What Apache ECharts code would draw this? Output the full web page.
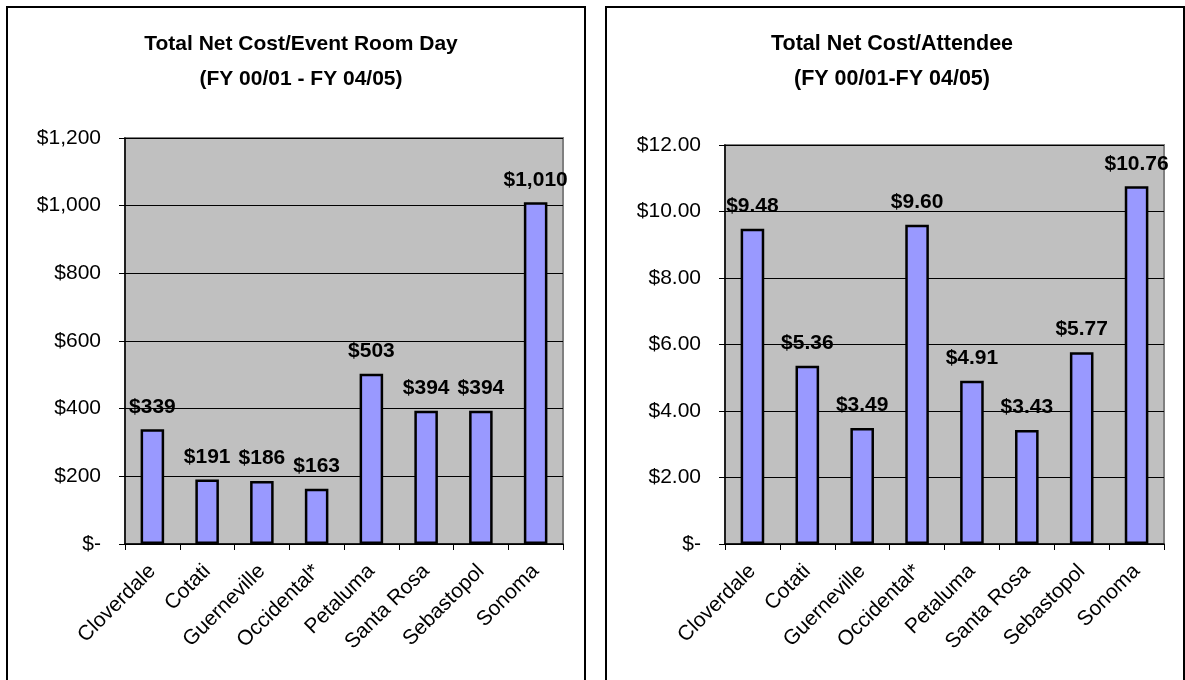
<!DOCTYPE html>
<html>
<head>
<meta charset="utf-8">
<script src="https://cdn.jsdelivr.net/npm/echarts@6/dist/echarts.min.js"></script>
<style>
html,body{margin:0;padding:0;background:#fff;}
#chart{width:1185px;height:680px;}
</style>
</head>
<body>
<div id="chart"></div>
<script>
const categories = ['Cloverdale','Cotati','Guerneville','Occidental*','Petaluma','Santa Rosa','Sebastopol','Sonoma'];
const costPerRoomDay = [339,191,186,163,503,394,394,1010];
const costPerAttendee = [9.48,5.36,3.49,9.60,4.91,3.43,5.77,10.76];
const leftTitle = 'Total Net Cost/Event Room Day\n(FY 00/01 - FY 04/05)';
const rightTitle = 'Total Net Cost/Attendee\n(FY 00/01-FY 04/05)';

const FONT = '"Liberation Sans", Arial, sans-serif';
const chart = echarts.init(document.getElementById('chart'), null, {renderer:'canvas'});

function fmtDollarInt(v){ return v === 0 ? '$-' : '$' + v.toLocaleString('en-US'); }
function fmtDollar2(v){ return v === 0 ? '$-' : '$' + v.toFixed(2); }

function xAxis(gi){
  return {
    type:'category', gridIndex:gi, data:categories, boundaryGap:true,
    axisLine:{show:true, lineStyle:{color:'#000', width:1.5}},
    axisTick:{show:true, length:6, lineStyle:{color:'#000', width:1}},
    axisLabel:{rotate:45, interval:0, margin:24, color:'#000', fontSize:21, fontFamily:FONT},
    splitLine:{show:false}
  };
}
function yAxis(gi, max, interval, fmt){
  return {
    type:'value', gridIndex:gi, min:0, max:max, interval:interval,
    axisLine:{show:true, lineStyle:{color:'#000', width:1.5}},
    axisTick:{show:true, length:6, lineStyle:{color:'#000', width:1}},
    axisLabel:{formatter:fmt, margin:24, color:'#000', fontSize:21, fontFamily:FONT},
    splitLine:{show:true, lineStyle:{color:'#000', width:1}}
  };
}
function barSeries(gi, data, fmt){
  return {
    type:'bar', xAxisIndex:gi, yAxisIndex:gi, data:data, barWidth:'43%',
    itemStyle:{color:'#9999FF', borderColor:'#000', borderWidth:2.5},
    label:{show:true, position:'top', distance:12, formatter:p=>fmt(p.value),
      color:'#000', fontSize:21, fontWeight:'bold', fontFamily:FONT},
    animation:false
  };
}

chart.setOption({
  animation:false,
  backgroundColor:'#fff',
  title:[
    {text:leftTitle, left:296, top:22, textAlign:'center',
     textStyle:{fontSize:21, fontWeight:'bold', color:'#000', fontFamily:FONT, lineHeight:35}},
    {text:rightTitle, left:887, top:22, textAlign:'center',
     textStyle:{fontSize:21.5, fontWeight:'bold', color:'#000', fontFamily:FONT, lineHeight:35}}
  ],
  grid:[
    {left:125, top:138, width:438, height:406, show:true, backgroundColor:'#C0C0C0', borderColor:'#808080', borderWidth:2},
    {left:725, top:145, width:439, height:399, show:true, backgroundColor:'#C0C0C0', borderColor:'#808080', borderWidth:2}
  ],
  xAxis:[xAxis(0), xAxis(1)],
  yAxis:[yAxis(0,1200,200,fmtDollarInt), yAxis(1,12,2,fmtDollar2)],
  series:[barSeries(0,costPerRoomDay,fmtDollarInt), barSeries(1,costPerAttendee,fmtDollar2)],
  graphic:[
    {type:'rect', shape:{x:7, y:7, width:578, height:690}, style:{fill:'none', stroke:'#000', lineWidth:2}, silent:true},
    {type:'rect', shape:{x:606, y:7, width:578, height:690}, style:{fill:'none', stroke:'#000', lineWidth:2}, silent:true}
  ]
});
</script>
</body>
</html>
